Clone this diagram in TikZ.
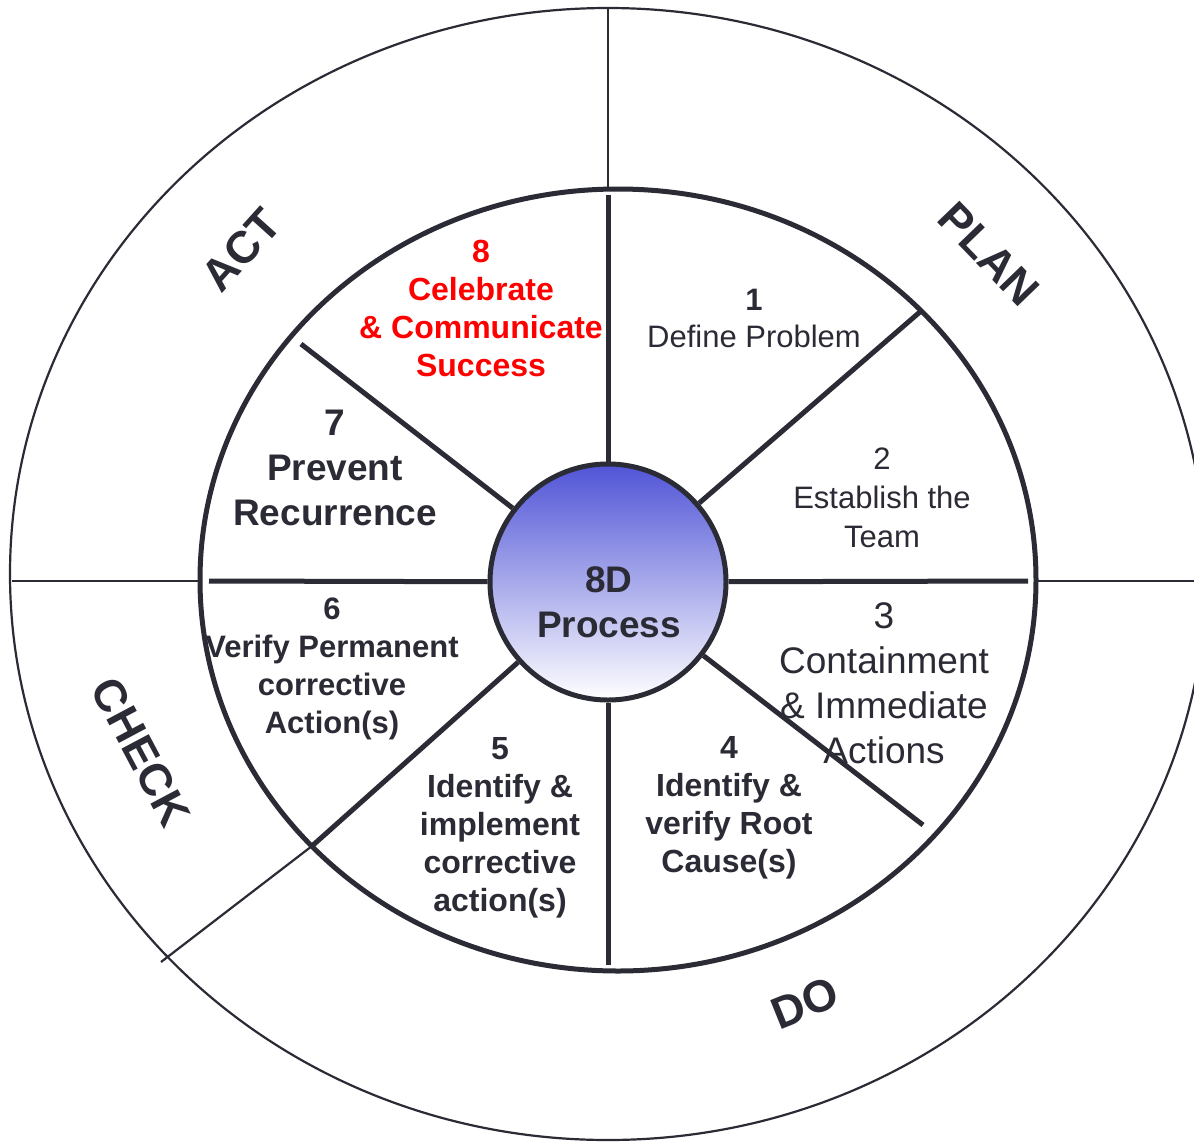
\documentclass[tikz,border=0pt]{standalone}
\usepackage{fontspec}
\setmainfont{Liberation Sans}
\definecolor{inkdark}{HTML}{2B2B35}
\definecolor{celebred}{HTML}{FF0000}
\definecolor{coreblue}{RGB}{80,84,214}
\tikzset{
  thinline/.style={draw=inkdark,line width=2.2pt},
  thickline/.style={draw=inkdark,line width=5pt},
  steplabel/.style={align=center,anchor=base,inner sep=0pt,text=inkdark},
  phase/.style={font=\fontsize{45}{45}\selectfont\bfseries,text=inkdark,inner sep=0pt}
}

\begin{document}
\begin{tikzpicture}[x=1pt,y=-1pt]
  \clip (0,0) rectangle (1194,1141);
  \fill[white] (0,0) rectangle (1194,1141);
  \draw[thinline] (608,574) ellipse [x radius=598pt,y radius=566pt];
  \coordinate (outerN) at (608,8);
  \coordinate (innerN) at (608,188);
  \coordinate (outerW) at (12,581);
  \coordinate (innerW) at (200,581);
  \coordinate (outerE) at (1210,581);
  \coordinate (innerE) at (1037,581);
  \coordinate (rimSW) at (161,962);
  \coordinate (tipN) at (608,195);
  \coordinate (tipS) at (608,965);
  \coordinate (tipW) at (209,581);
  \coordinate (tipE) at (1028,581);
  \coordinate (tipNE) at (921,311);
  \coordinate (tipNW) at (301,344);
  \coordinate (tipSE) at (923,825);
  \coordinate (tipSW) at (312,846);
  \draw[thinline] (innerN) -- (outerN);
  \draw[thinline] (innerW) -- (outerW);
  \draw[thinline] (innerE) -- (outerE);
  \draw[thinline] (tipSW) -- (rimSW);
  \node[phase,rotate=-46] (plan) at (989,254) {PLAN};
  \node[phase,rotate=48] (act) at (241,250) {ACT};
  \node[phase,rotate=-62] (check) at (141,752) {CHECK};
  \node[phase,rotate=22] (do) at (805,1003) {DO};
  \begin{scope}
    \clip (618,580) ellipse [x radius=418pt,y radius=391pt];
    \node[steplabel,font=\fontsize{31}{37}\selectfont] (define) at (754,347) {\textbf{1}\\Define Problem};
    \node[steplabel,font=\fontsize{31}{39}\selectfont] (team) at (882,547) {2\\Establish the\\Team};
    \node[steplabel,font=\fontsize{37}{45}\selectfont] (contain) at (884,763) {3\\Containment\\\& Immediate\\Actions};
    \node[steplabel,font=\fontsize{32}{38}\selectfont\bfseries] (rootcause) at (729,872) {4\\Identify \&\\verify Root\\Cause(s)};
    \node[steplabel,font=\fontsize{32}{38}\selectfont\bfseries] (implement) at (500,911) {5\\Identify \&\\implement\\corrective\\action(s)};
    \node[steplabel,font=\fontsize{31}{38}\selectfont\bfseries] (verify) at (332,733) {6\\Verify Permanent\\corrective\\Action(s)};
    \node[steplabel,font=\fontsize{37}{45}\selectfont\bfseries] (prevent) at (335,525) {7\\Prevent\\Recurrence};
    \node[steplabel,font=\fontsize{32}{38}\selectfont\bfseries,text=celebred] (celebrate) at (481,376) {8\\Celebrate\\\& Communicate\\Success};
  \end{scope}
  \node[circle,draw=inkdark,line width=5pt,minimum size=236pt,inner sep=0pt,top color=coreblue,bottom color=white] (core) at (608,582) {};
  \draw[thickline] (core) -- (tipN);
  \draw[thickline] (core) -- (tipS);
  \draw[thickline] (core) -- (tipW);
  \draw[thickline] (core) -- (tipE);
  \draw[thickline] (core) -- (tipNE);
  \draw[thickline] (core) -- (tipNW);
  \draw[thickline] (core) -- (tipSE);
  \draw[thickline] (core) -- (tipSW);
  \draw[inkdark,line width=5pt] (618,580) ellipse [x radius=418pt,y radius=391pt];
  \node[steplabel,font=\fontsize{37}{45}\selectfont\bfseries] (coretext) at (609,637) {8D\\Process};
\end{tikzpicture}
\end{document}
